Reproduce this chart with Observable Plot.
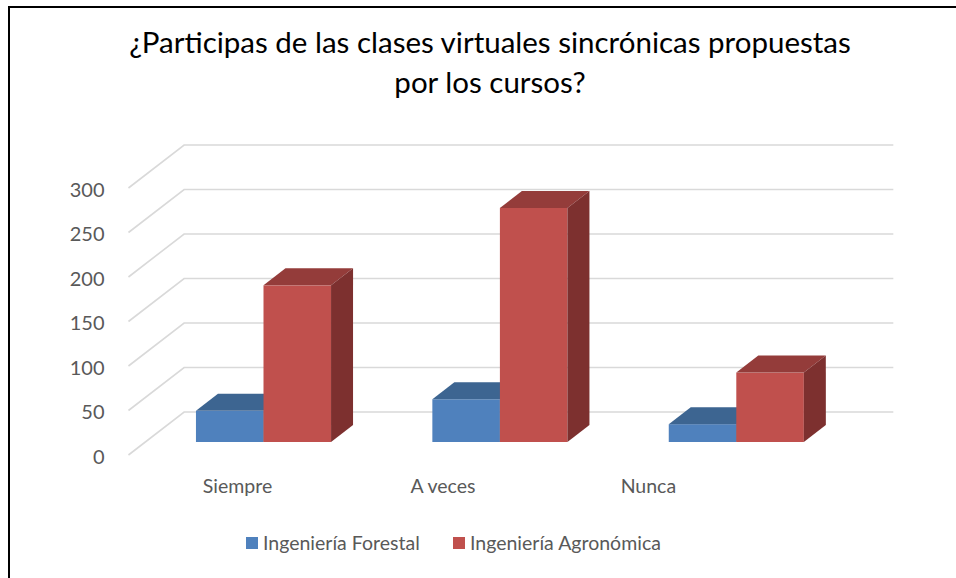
<!DOCTYPE html>
<html><head><meta charset="utf-8">
<script src="https://cdn.jsdelivr.net/npm/d3@7"></script>
<script src="https://cdn.jsdelivr.net/npm/@observablehq/plot@0.6"></script>
<style>
body{margin:0;background:#fff;font-family:Lato,"Open Sans",sans-serif;width:956px;height:578px;overflow:hidden;position:relative;}
#frame{position:absolute;left:8px;top:6px;width:1000px;height:700px;border-left:2px solid #000;border-top:2px solid #000;}
#title{position:absolute;left:0;width:980px;top:22px;text-align:center;font-size:29.5px;line-height:40px;color:#000;}
#chart{position:absolute;left:0;top:130px;}
.leg{position:absolute;top:531px;display:flex;align-items:center;font-size:19.5px;color:#595959;white-space:nowrap;}
.leg span.sw{display:inline-block;width:12px;height:12px;margin-right:5px;}
</style></head><body>
<div id="frame"></div>
<div id="title">¿Participas de las clases virtuales sincrónicas propuestas<br>por los cursos?</div>
<div id="chart"></div>
<div id="legend"></div>
<script>
const categories = ["Siempre", "A veces", "Nunca"];
const seriesNames = ["Ingeniería Forestal", "Ingeniería Agronómica"];
const forestal = [35, 48, 20];
const agronomica = [176, 263, 78];
const yTicks = [0, 50, 100, 150, 200, 250, 300];
const frontColors = ["#4F81BD", "#C0504D"];
const topColors = ["#3D6591", "#943C3A"];
const sideColors = ["#345780", "#7D302F"];

const W = 1 / 3.5;          // bar width in category units (gap 150%)
const DX = 22, DY = 17;     // oblique depth offset (px) of one bar depth
const zFront = -13 / 17, zBack = 30 / 17;

const walls = (index, scales) => {
  const {x, y} = scales;
  const P = (xd, v, z) => [x(xd) + z * DX, y(v) - z * DY];
  const g = d3.create("svg:g").attr("fill", "none").attr("stroke", "#D9D9D9").attr("stroke-width", 1.6);
  yTicks.forEach(v => {
    const a = P(-0.5, v, zFront), b = P(-0.5, v, zBack), c = P(2.5, v, zBack);
    g.append("path").attr("d", `M${a}L${b}L${c}`);
  });
  return g.node();
};

function faces(vals, s) {
  return (index, scales) => {
    const {x, y} = scales;
    const g = d3.create("svg:g");
    vals.forEach((v, i) => {
      const x0 = x(i + (s - 1) * W), x1 = x(i + s * W);
      const y0 = y(0), yt = y(v);
      g.append("path").attr("fill", topColors[s])
        .attr("d", `M${x0},${yt}L${x1},${yt}L${x1 + DX},${yt - DY}L${x0 + DX},${yt - DY}Z`);
      g.append("path").attr("fill", sideColors[s])
        .attr("d", `M${x1},${yt}L${x1 + DX},${yt - DY}L${x1 + DX},${y0 - DY}L${x1},${y0}Z`);
    });
    return g.node();
  };
}

function front(vals, s) {
  return Plot.rect(vals, {
    x1: (d, i) => i + (s - 1) * W,
    x2: (d, i) => i + s * W,
    y1: 0,
    y2: d => d,
    fill: frontColors[s]
  });
}

const chart = Plot.plot({
  width: 956,
  height: 360,
  marginLeft: 110,
  marginBottom: 0,
  marginTop: 0,
  marginRight: 0,
  style: {fontFamily: "Lato, 'Open Sans', sans-serif", background: "transparent", overflow: "visible"},
  x: {domain: [0, 2], range: [263.5, 736.3], axis: null},
  y: {domain: [0, 300], range: [312, 45], axis: null},
  marks: [
    walls,
    Plot.text(yTicks, {y: d => d, text: d => String(d), frameAnchor: "left", textAnchor: "end", dx: -6, dy: 15, fontSize: 20, fill: "#595959"}),
    Plot.text(categories, {x: (d, i) => i * 0.869 - 0.112, frameAnchor: "bottom", dy: 2, text: d => d, fontSize: 19.5, fill: "#595959"}),
    front(forestal, 0),
    faces(forestal, 0),
    front(agronomica, 1),
    faces(agronomica, 1)
  ]
});
document.getElementById("chart").appendChild(chart);

const legend = document.getElementById("legend");
const legendLeft = [246, 453];
seriesNames.forEach((name, s) => {
  const item = document.createElement("div");
  item.className = "leg";
  item.style.left = legendLeft[s] + "px";
  item.innerHTML = `<span class="sw" style="background:${frontColors[s]}"></span><span>${name}</span>`;
  legend.appendChild(item);
});
</script>
</body></html>
